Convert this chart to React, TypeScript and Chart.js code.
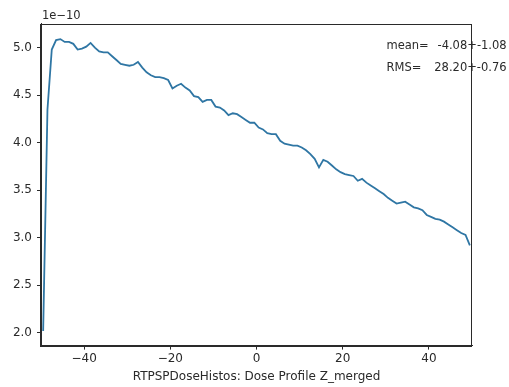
import React, { useEffect, useRef } from 'react';
import { Chart, registerables } from 'chart.js';

Chart.register(...registerables);

// Bin centres (z) of the dose profile
const BIN_CENTERS = [
  -49.5, -48.5, -47.5, -46.5, -45.5, -44.5, -43.5, -42.5, -41.5, -40.5,
  -39.5, -38.5, -37.5, -36.5, -35.5, -34.5, -33.5, -32.5, -31.5, -30.5,
  -29.5, -28.5, -27.5, -26.5, -25.5, -24.5, -23.5, -22.5, -21.5, -20.5,
  -19.5, -18.5, -17.5, -16.5, -15.5, -14.5, -13.5, -12.5, -11.5, -10.5,
  -9.5, -8.5, -7.5, -6.5, -5.5, -4.5, -3.5, -2.5, -1.5, -0.5,
  0.5, 1.5, 2.5, 3.5, 4.5, 5.5, 6.5, 7.5, 8.5, 9.5,
  10.5, 11.5, 12.5, 13.5, 14.5, 15.5, 16.5, 17.5, 18.5, 19.5,
  20.5, 21.5, 22.5, 23.5, 24.5, 25.5, 26.5, 27.5, 28.5, 29.5,
  30.5, 31.5, 32.5, 33.5, 34.5, 35.5, 36.5, 37.5, 38.5, 39.5,
  40.5, 41.5, 42.5, 43.5, 44.5, 45.5, 46.5, 47.5, 48.5, 49.5,
];

// Dose values in units of 1e-10
const DOSE_VALUES = [
  2.02, 4.35, 4.98, 5.08, 5.09, 5.06, 5.06, 5.04, 4.98, 4.99,
  5.01, 5.05, 5.00, 4.96, 4.95, 4.95, 4.91, 4.87, 4.83, 4.82,
  4.81, 4.82, 4.85, 4.79, 4.74, 4.71, 4.69, 4.69, 4.68, 4.66,
  4.57, 4.60, 4.62, 4.58, 4.55, 4.49, 4.48, 4.43, 4.45, 4.45,
  4.38, 4.37, 4.34, 4.29, 4.31, 4.30, 4.27, 4.24, 4.21, 4.21,
  4.16, 4.14, 4.10, 4.09, 4.09, 4.02, 3.99, 3.98, 3.97, 3.97,
  3.95, 3.92, 3.88, 3.83, 3.74, 3.82, 3.80, 3.76, 3.72, 3.69,
  3.67, 3.66, 3.65, 3.60, 3.62, 3.58, 3.55, 3.52, 3.49, 3.46,
  3.42, 3.39, 3.36, 3.37, 3.38, 3.35, 3.32, 3.31, 3.29, 3.24,
  3.22, 3.20, 3.19, 3.17, 3.14, 3.11, 3.08, 3.05, 3.03, 2.92,
];

const X_TICKS = [-40, -20, 0, 20, 40];
const Y_TICKS = [2.0, 2.5, 3.0, 3.5, 4.0, 4.5, 5.0];
const X_MIN = -50;
const X_MAX = 50;
const Y_MIN = 1.866;
const Y_MAX = 5.254;
const OFFSET_TEXT = '1e\u221210';
const X_TITLE = 'RTPSPDoseHistos: Dose Profile Z_merged';
const STAT_LABELS = ['mean=', 'RMS='];
const STAT_VALUES = ['-4.08+-1.08', '28.20+-0.76'];

const FONT = 'DejaVu Sans';
const INK = '#2a2a2a';

const framePlugin = {
  id: 'frame',
  afterDraw(chart: any) {
    const { ctx, chartArea } = chart;
    const { left, top, right, bottom } = chartArea;
    ctx.save();
    ctx.strokeStyle = INK;
    ctx.lineWidth = 1;
    ctx.strokeRect(Math.round(left) - 0.5, Math.round(top) + 0.5, Math.round(right - left), Math.round(bottom - top));
    ctx.fillStyle = INK;
    ctx.font = `11.5px "${FONT}"`;
    ctx.textBaseline = 'alphabetic';
    ctx.textAlign = 'left';
    ctx.fillText(OFFSET_TEXT, left + 1, top - 4.5);
    ctx.font = `11.5px "${FONT}"`;
    const baselines = [49, 71];
    const valueX = [437.5, 434.3];
    STAT_LABELS.forEach((lab, i) => {
      ctx.fillText(lab, 386.5, baselines[i]);
      ctx.fillText(STAT_VALUES[i], valueX[i], baselines[i]);
    });
    ctx.restore();
  },
};

export default function App() {
  const ref = useRef<HTMLCanvasElement | null>(null);

  useEffect(() => {
    if (!ref.current) return;
    const chart = new Chart(ref.current, {
      type: 'line',
      data: {
        datasets: [
          {
            data: BIN_CENTERS.map((x, i) => ({ x, y: DOSE_VALUES[i] })),
            borderColor: '#2f76a4',
            borderWidth: 1.8,
            pointRadius: 0,
            tension: 0,
            fill: false,
          },
        ],
      },
      options: {
        animation: false,
        responsive: false,
        maintainAspectRatio: false,
        layout: { padding: { left: 0, right: 37, top: 23.5, bottom: 0 } },
        plugins: { legend: { display: false }, tooltip: { enabled: false } },
        scales: {
          x: {
            type: 'linear',
            min: X_MIN,
            max: X_MAX,
            afterBuildTicks: (s: any) => {
              s.ticks = X_TICKS.map((v) => ({ value: v }));
            },
            afterFit: (s: any) => {
              s.height = 41.4;
            },
            grid: { drawOnChartArea: false, drawTicks: true, tickLength: 4, color: INK, lineWidth: 1 },
            border: { display: true, color: INK, width: 1 },
            ticks: {
              color: INK,
              font: { family: FONT, size: 12 },
              padding: 2,
              maxRotation: 0,
              autoSkip: false,
              callback: (v: any) => (Number(v) < 0 ? '\u2212' + Math.abs(Number(v)) : String(v)),
            },
            title: {
              display: true,
              text: X_TITLE,
              color: INK,
              font: { family: FONT, size: 12 },
              padding: { top: 0, bottom: 3 },
            },
          },
          y: {
            type: 'linear',
            min: Y_MIN,
            max: Y_MAX,
            afterBuildTicks: (s: any) => {
              s.ticks = Y_TICKS.map((v) => ({ value: v }));
            },
            afterFit: (s: any) => {
              s.width = 41;
            },
            grid: { drawOnChartArea: false, drawTicks: true, tickLength: 4, color: INK, lineWidth: 1 },
            border: { display: true, color: INK, width: 1 },
            ticks: {
              color: INK,
              font: { family: FONT, size: 12 },
              padding: 5,
              autoSkip: false,
              callback: (v: any) => Number(v).toFixed(1),
            },
          },
        },
      },
      plugins: [framePlugin],
    });
    return () => chart.destroy();
  }, []);

  return (
    <div style={{ position: 'absolute', left: 0, top: 0, width: 509, height: 387, background: '#fff' }}>
      <canvas ref={ref} width={509} height={387} style={{ display: 'block' }} />
    </div>
  );
}
